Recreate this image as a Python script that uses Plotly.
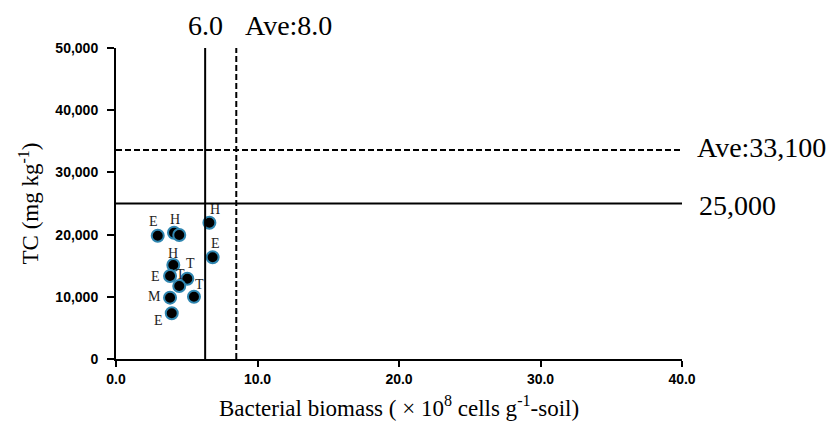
import plotly.graph_objects as go

# Data
biomass = [2.95, 4.10, 4.47, 6.60, 6.83, 4.05, 3.82, 5.04, 4.47, 5.51, 3.82, 3.94]
tc = [19820, 20300, 19935, 21900, 16350, 15110, 13340, 12910, 11740, 10020, 9860, 7350]
labels = ["E", "H", "", "H", "E", "H", "E", "T", "T", "T", "M", "E"]
# pixel offsets of each letter from its point (styling only)
label_dx = [-4, 1, 0, 6, 3, 0, -15, 3, 1, 6, -16, -13]
label_dy = [14, 13, 0, 13, 14, 12, 0, 15, 11, 12, 1, -7]

x_threshold = 6.3
x_threshold_label = "6.0"
x_average = 8.5
x_average_label = "Ave:8.0"
y_threshold = 25000
y_threshold_label = "25,000"
y_average = 33600
y_average_label = "Ave:33,100"

x_ticks = [0, 10, 20, 30, 40]
x_ticktext = ["0.0", "10.0", "20.0", "30.0", "40.0"]
y_ticks = [0, 10000, 20000, 30000, 40000, 50000]
y_ticktext = ["0", "10,000", "20,000", "30,000", "40,000", "50,000"]

serif = "Liberation Serif, Times New Roman, serif"
sans = "Liberation Sans, Arial, sans-serif"

fig = go.Figure()
fig.add_trace(go.Scatter(
    x=biomass, y=tc, mode="markers",
    marker=dict(size=12, color="black", line=dict(color="#2f86b0", width=2)),
    showlegend=False, cliponaxis=False,
))

for xv, yv, lab, dx, dy in zip(biomass, tc, labels, label_dx, label_dy):
    if lab:
        fig.add_annotation(x=xv, y=yv, xref="x", yref="y", text=lab, showarrow=False,
                           xshift=dx, yshift=dy, font=dict(family=serif, size=14, color="#222"))

line_style = dict(color="black", width=2)
fig.add_shape(type="line", xref="x", yref="y", x0=x_threshold, x1=x_threshold, y0=0, y1=50000, line=line_style)
fig.add_shape(type="line", xref="x", yref="y", x0=x_average, x1=x_average, y0=0, y1=50000,
              line=dict(color="black", width=2, dash="6px,3px"))
fig.add_shape(type="line", xref="x", yref="y", x0=0, x1=40, y0=y_threshold, y1=y_threshold, line=line_style)
fig.add_shape(type="line", xref="x", yref="y", x0=0, x1=40, y0=y_average, y1=y_average,
              line=dict(color="black", width=2, dash="6px,3px"))

big = dict(family=serif, size=28, color="black")
fig.add_annotation(x=x_threshold, y=50000, xref="x", yref="y", text=x_threshold_label, showarrow=False,
                   yanchor="bottom", yshift=5, font=big)
fig.add_annotation(x=x_average, y=50000, xref="x", yref="y", text=x_average_label, showarrow=False,
                   xanchor="left", yanchor="bottom", yshift=5, xshift=7, font=big)
fig.add_annotation(x=40, y=y_average, xref="x", yref="y", text=y_average_label, showarrow=False,
                   xanchor="left", xshift=13, yshift=3, font=big)
fig.add_annotation(x=40, y=y_threshold, xref="x", yref="y", text=y_threshold_label, showarrow=False,
                   xanchor="left", xshift=15, yshift=-2, font=big)

fig.update_layout(
    width=837, height=432,
    margin=dict(l=116, r=155, t=48, b=73),
    paper_bgcolor="white", plot_bgcolor="white",
    xaxis=dict(range=[0, 40], tickvals=x_ticks, ticktext=x_ticktext,
               showgrid=False, zeroline=False, showline=True, linecolor="black", linewidth=2,
               ticks="outside", ticklen=6, tickwidth=2, tickcolor="black",
               tickfont=dict(family=sans, size=14, color="black", weight="bold"),
               title=dict(text="Bacterial biomass ( \u00d7 10<sup>8</sup> cells g<sup>-1</sup>-soil)",
                          font=dict(family=serif, size=23, color="black"), standoff=14)),
    yaxis=dict(range=[0, 50000], tickvals=y_ticks, ticktext=y_ticktext,
               showgrid=False, zeroline=False, showline=True, linecolor="black", linewidth=2,
               ticks="outside", ticklen=7, tickwidth=2, tickcolor="black", ticklabelstandoff=6,
               tickfont=dict(family=sans, size=14, color="black", weight="bold"),
               title=dict(text="TC (mg kg<sup>-1</sup>)", font=dict(family=serif, size=23, color="black"),
                          standoff=10)),
)

fig.write_html("out.html")
